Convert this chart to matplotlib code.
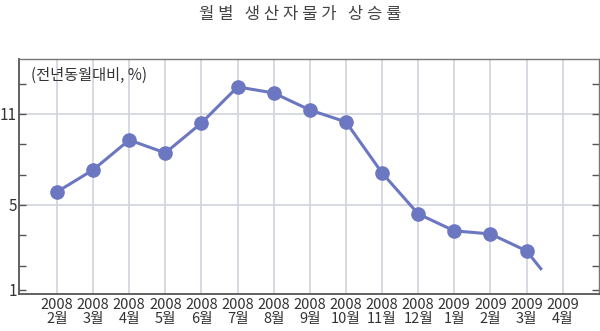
import matplotlib.pyplot as plt

plt.rcParams['font.family'] = ['Noto Sans CJK KR', 'DejaVu Sans']

# 생산자물가 전년동월대비 상승률 (%)
years = ["2008"] * 11 + ["2009"] * 4
months = ["2월", "3월", "4월", "5월", "6월", "7월", "8월", "9월",
          "10월", "11월", "12월", "1월", "2월", "3월", "4월"]
ppi_rate = [5.86, 7.31, 9.28, 8.43, 10.4, 12.78, 12.38, 11.26,
            10.47, 7.11, 4.41, 3.29, 3.09, 1.97]
# line continues a little past the last point toward April
tail_end = (13.42, 0.72)

ytick_values = [13, 11, 9, 7, 5, 3, 1, -0.6]
ytick_labels = ["", "11", "", "", "5", "", "", "1"]

line_color = "#6b77c0"
grid_color = "#d3d6e0"

fig = plt.figure(figsize=(6, 3.31), dpi=100)
ax = fig.add_axes([0.0317, 0.1118, 0.9663, 0.71])

idx = list(range(len(ppi_rate)))
ax.plot([idx[-1], tail_end[0]], [ppi_rate[-1], tail_end[1]],
        color=line_color, lw=2.2, solid_capstyle="butt", zorder=3)
ax.plot(idx, ppi_rate, color=line_color, lw=2.2, marker="o",
        markersize=9.5, markerfacecolor=line_color, markeredgecolor=line_color,
        zorder=4)

ax.set_xlim(-1.05, 15.0)
ax.set_ylim(-0.87, 14.62)

# vertical grid for every month, horizontal only at 11 and 5
for i in range(len(months)):
    ax.axvline(i, color=grid_color, lw=1.3, zorder=1)
for v in (11, 5):
    ax.axhline(v, color=grid_color, lw=1.3, zorder=1)

ax.set_xticks(range(len(months)))
ax.set_xticklabels([f"{y}\n{m}" for y, m in zip(years, months)],
                   fontsize=10.5, color="#333333", linespacing=0.95)
ax.tick_params(axis="x", length=0, pad=3)

ax.set_yticks(ytick_values)
ax.set_yticklabels(ytick_labels, fontsize=11, color="#333333")
ax.tick_params(axis="y", direction="in", length=5, width=1, color="#555555",
               right=True, pad=1.5)

for side in ("left", "bottom"):
    ax.spines[side].set_color("#555555")
    ax.spines[side].set_linewidth(1.3)
for side in ("top", "right"):
    ax.spines[side].set_color("#777777")
    ax.spines[side].set_linewidth(1.0)

ax.text(0.02, 0.93, "(전년동월대비, %)", transform=ax.transAxes,
        fontsize=11, color="#333333", va="center", ha="left")

fig.text(0.5, 0.955, "월 별   생 산 자 물 가   상 승 률", ha="center", va="center",
         fontsize=12, color="#444444")

fig.savefig("out.png", dpi=100)
